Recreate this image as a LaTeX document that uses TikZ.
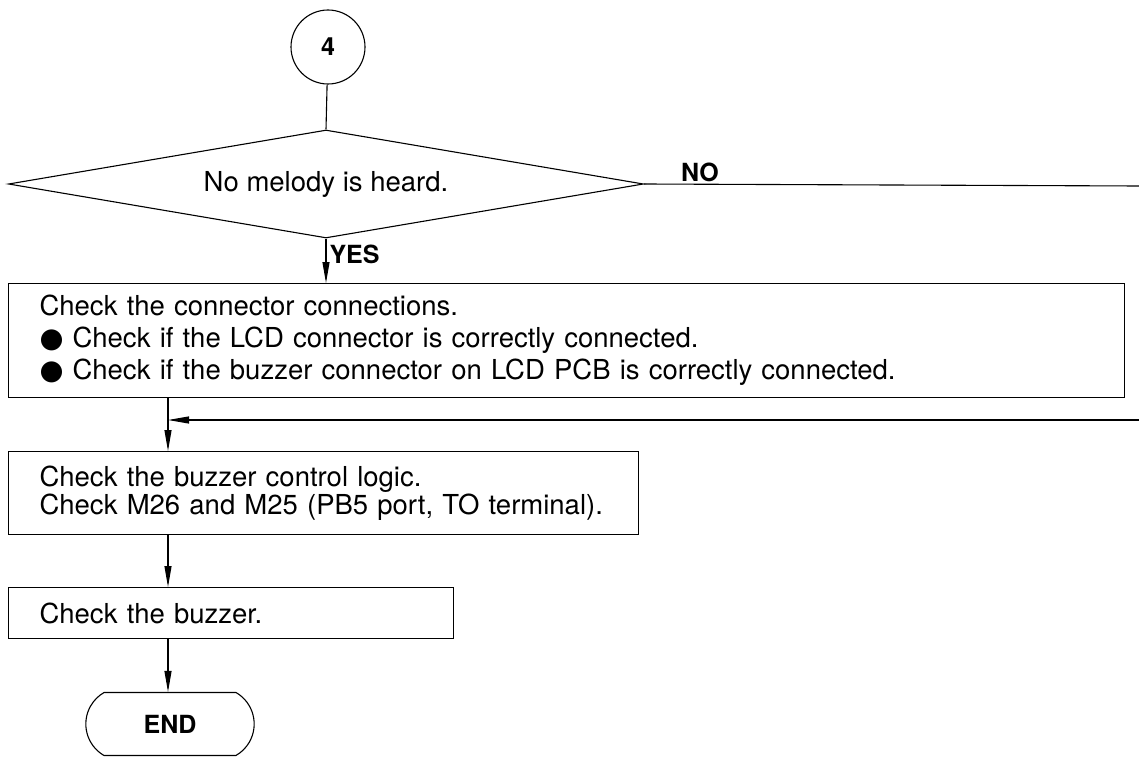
\documentclass[tikz,border=0pt]{standalone}
\usepackage{fontspec}
\setmainfont{TeX Gyre Heros}
\newfontfamily\symfont{DejaVu Sans}
\usetikzlibrary{arrows.meta,positioning,shapes.geometric,shapes.misc}
\tikzset{box/.style={draw,line width=1.1pt,anchor=north west,align=left,inner xsep=31pt,inner ysep=0pt,font=\fontsize{27.5}{32}\selectfont},arr/.style={-{Triangle[length=21pt,width=7pt]},line width=1.1pt},lbl/.style={font=\fontsize{25}{28}\selectfont\bfseries}}
\newcommand{\bul}{\makebox[33pt][l]{\symfont ●}}
\begin{document}
\begin{tikzpicture}[x=1pt,y=-1pt,line width=1.1pt]
\useasboundingbox (0,0) rectangle (1139,759);
\node[circle,draw,minimum size=74pt,inner sep=0,lbl] (start) at (328,47) {4};
\node[diamond,draw,aspect=5.9,minimum width=635pt,minimum height=108pt,inner sep=0,font=\fontsize{27.5}{32}\selectfont] (melody) at (326,184) {No melody is heard.};
\node[box,text width=1054pt,minimum height=114pt] (conn) at (8,283) {Check the connector connections.\\\bul Check if the LCD connector is correctly connected.\\\bul Check if the buzzer connector on LCD PCB is correctly connected.};
\node[box,text width=568pt,minimum height=83pt,font=\fontsize{27.5}{28}\selectfont] (logic) at (8,451) {Check the buzzer control logic.\\Check M26 and M25 (PB5 port, TO terminal).};
\node[box,text width=383pt,minimum height=51pt] (buzz) at (8,587) {Check the buzzer.};
\node[rounded rectangle,rounded rectangle arc length=120,draw,minimum width=175pt,minimum height=63pt,lbl] (fin) at (170,724) {END};
\coordinate (j) at (168,420);
\coordinate (ret) at (1139,420);
\coordinate (noend) at (1139,186);
\draw (start)--(melody.north);
\draw (melody.east)--node[pos=.113,above=-1pt,lbl]{NO}(noend);
\draw[arr] (melody.south)--node[pos=.35,right=1pt,lbl,inner sep=2pt]{YES}(melody.south|-conn.north);
\draw[arr] (conn.south-|j)--(logic.north-|j);
\draw[arr] (ret)--(j);
\draw[arr] (logic.south-|j)--(buzz.north-|j);
\draw[arr] (buzz.south-|j)--(fin.north-|j);
\end{tikzpicture}
\end{document}
